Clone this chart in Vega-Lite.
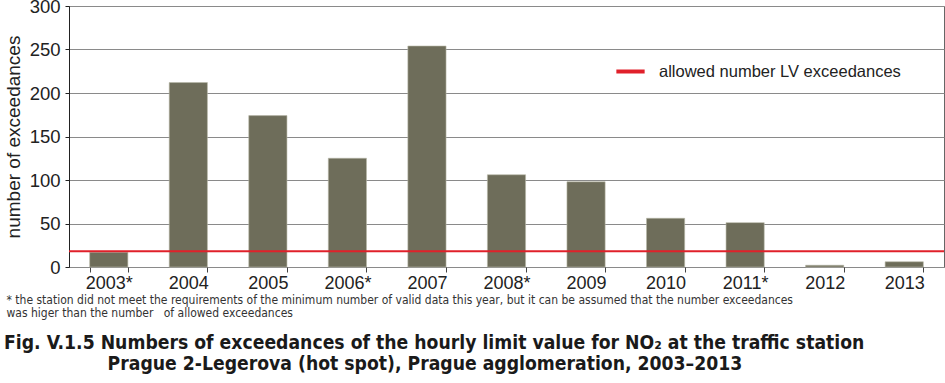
{
  "$schema": "https://vega.github.io/schema/vega-lite/v6.json",
  "autosize": "none",
  "width": 875,
  "height": 261,
  "padding": {"left": 69, "top": 6, "right": 1, "bottom": 116},
  "background": "white",
  "config": {
    "view": {"stroke": "#666", "strokeWidth": 1},
    "font": "Liberation Sans"
  },
  "title": {
    "text": ["Fig. V.1.5  Numbers of exceedances of the hourly limit value for NO₂ at the traffic station", "\u200b\u2003\u2003\u2003\u2003\u2003\u2003Prague 2-Legerova (hot spot), Prague agglomeration, 2003–2013"],
    "orient": "bottom",
    "anchor": "start",
    "frame": "group",
    "dx": -65,
    "offset": 16,
    "font": "DejaVu Sans Condensed",
    "fontSize": 19.2,
    "fontWeight": "bold",
    "color": "#1a1a1a",
    "lineHeight": 21
  },
  "layer": [
    {
      "data": {"values": [
        {"year": "2003*", "count": 17},
        {"year": "2004", "count": 212},
        {"year": "2005", "count": 174},
        {"year": "2006*", "count": 125},
        {"year": "2007", "count": 254},
        {"year": "2008*", "count": 106},
        {"year": "2009", "count": 98},
        {"year": "2010", "count": 56},
        {"year": "2011*", "count": 51},
        {"year": "2012", "count": 2},
        {"year": "2013", "count": 6}
      ]},
      "mark": {"type": "bar", "color": "#6e6d5a", "stroke": "#b8b8a8", "strokeWidth": 0.6},
      "encoding": {
        "x": {
          "field": "year", "type": "ordinal", "sort": null,
          "scale": {"paddingInner": 0.52, "paddingOuter": 0.26},
          "axis": {
            "title": ["* the station did not meet the requirements of the minimum number of valid data this year, but it can be assumed that the number exceedances", "was higer than the number \u00a0\u00a0of allowed exceedances"],
            "titleFont": "DejaVu Sans Condensed",
            "titleFontSize": 12,
            "titleFontWeight": "normal",
            "titleColor": "#333",
            "titleAnchor": "start",
            "titleAlign": "left",
            "titleX": -63,
            "titleY": 27,
            "titleLineHeight": 13,
            "labelAngle": 0,
            "labelFontSize": 18,
            "labelColor": "#222",
            "labelPadding": 2,
            "labelBaseline": "top",
            "tickBand": "extent",
            "tickColor": "#444",
            "tickSize": 5,
            "domain": false,
            "grid": false
          }
        },
        "y": {
          "field": "count", "type": "quantitative",
          "scale": {"domain": [0, 300], "nice": false},
          "axis": {
            "title": "number of exceedances",
            "titleFontSize": 19,
            "titleFontWeight": "normal",
            "titleColor": "#222",
            "titlePadding": 6,
            "values": [0, 50, 100, 150, 200, 250, 300],
            "labelFontSize": 18.5,
            "labelColor": "#222",
            "labelPadding": 5,
            "tickSize": 4,
            "tickColor": "#222",
            "domainColor": "#222",
            "grid": true,
            "gridColor": "#8a8a8a",
            "gridWidth": 1
          }
        }
      }
    },
    {
      "data": {"values": [{"label": "allowed number LV exceedances", "limit": 18}]},
      "mark": {"type": "rule", "strokeWidth": 2},
      "encoding": {
        "y": {"field": "limit", "type": "quantitative"},
        "color": {
          "field": "label", "type": "nominal",
          "scale": {"range": ["#e0202a"]},
          "legend": {
            "title": null,
            "orient": "none",
            "legendX": 545,
            "legendY": 49,
            "symbolType": "stroke",
            "symbolSize": 800,
            "symbolStrokeWidth": 4,
            "labelFontSize": 16.5,
            "labelColor": "#222",
            "labelOffset": 12,
            "labelLimit": 400
          }
        }
      }
    }
  ]
}
